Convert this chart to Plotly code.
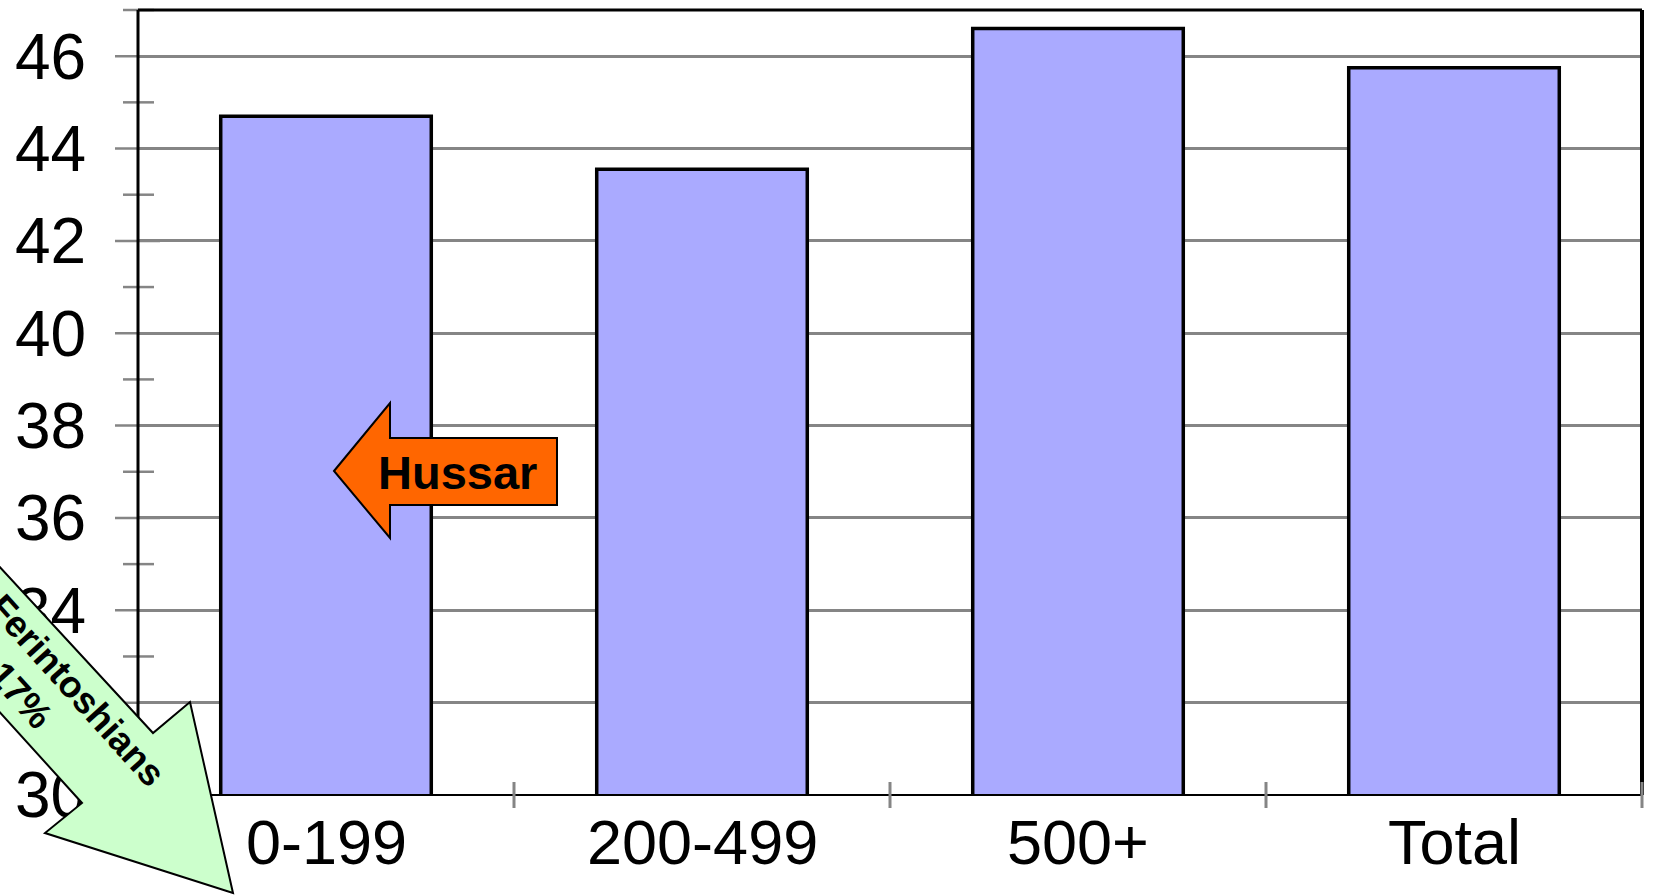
import plotly.graph_objects as go

# ---------------- data ----------------
categories = ["0-199", "200-499", "500+", "Total"]
values = [44.7, 43.55, 46.6, 45.75]
y_tick_values = [30, 32, 34, 36, 38, 40, 42, 44, 46]
y_minor_values = [31, 33, 35, 37, 39, 41, 43, 45, 47]
y_range = [30, 47]

hussar_label = "Hussar"
ferin_label_1 = "Ferintoshians"
ferin_label_2 = "17%"

# ---------------- layout geometry ----------------
W, H = 1653, 895
L, R, T, B = 138, 11, 10, 100
PW = W - L - R
PH = H - T - B
FONT = "Arial, Liberation Sans, sans-serif"


def px(x):
    return (x - L) / PW


def py(y):
    return (H - B - y) / PH


def yv(v):
    return (v - y_range[0]) / (y_range[1] - y_range[0])


def poly(points):
    pts = [f"{px(x):.5f},{py(y):.5f}" for x, y in points]
    return "M" + " L".join(pts) + " Z"


fig = go.Figure()
fig.add_trace(go.Bar(
    x=categories, y=values,
    marker=dict(color="#AAAAFF", line=dict(color="black", width=3.5)),
    hoverinfo="skip",
))

shapes = []
# y tick marks (major outside part, minor crossing)
for v in y_tick_values:
    shapes.append(dict(type="line", xref="paper", yref="paper",
                       x0=px(115), x1=px(160), y0=yv(v), y1=yv(v),
                       line=dict(color="#858585", width=2.5), layer="above"))
for v in y_minor_values:
    shapes.append(dict(type="line", xref="paper", yref="paper",
                       x0=px(123), x1=px(154), y0=yv(v), y1=yv(v),
                       line=dict(color="#858585", width=2.5), layer="above"))
# borders
shapes += [
    dict(type="line", xref="paper", yref="paper", x0=0, x1=0, y0=0, y1=1,
         line=dict(color="black", width=3), layer="above"),
    dict(type="line", xref="paper", yref="paper", x0=0, x1=1, y0=0, y1=0,
         line=dict(color="black", width=2), layer="above"),
    dict(type="line", xref="paper", yref="paper", x0=0, x1=1, y0=1, y1=1,
         line=dict(color="black", width=3), layer="above"),
    dict(type="line", xref="paper", yref="paper", x0=1, x1=1, y0=0, y1=1,
         line=dict(color="black", width=4), layer="above"),
]
# x tick marks at category boundaries
n = len(categories)
for i in range(1, n + 1):
    xp = i / n
    shapes.append(dict(type="line", xref="paper", yref="paper",
                       x0=xp, x1=xp, y0=py(782), y1=py(808),
                       line=dict(color="#858585", width=3), layer="above"))

# Hussar arrow (orange, pointing left)
shapes.append(dict(type="path", xref="paper", yref="paper", layer="above",
                   path=poly([(334, 471), (390, 403), (390, 438), (557, 438),
                              (557, 505), (390, 505), (390, 538)]),
                   fillcolor="#FF6600", line=dict(color="black", width=2)))

# Ferintoshians arrow (green, pointing down-right)
shapes.append(dict(type="path", xref="paper", yref="paper", layer="above",
                   path=poly([(-100, 459), (153, 733), (190, 702), (233, 893),
                              (45, 833), (82, 803), (-100, 602)]),
                   fillcolor="#CCFFCC", line=dict(color="black", width=2)))

annotations = []
# category labels
for c in categories:
    annotations.append(dict(xref="x", yref="paper", x=c, y=py(842), text=c,
                            showarrow=False, xanchor="center", yanchor="middle",
                            font=dict(family=FONT, size=63, color="black")))
annotations += [
    dict(xref="paper", yref="paper", x=px(457), y=py(472), text=f"<b>{hussar_label}</b>",
         showarrow=False, xanchor="center", yanchor="middle",
         font=dict(family=FONT, size=47, color="black")),
    dict(xref="paper", yref="paper", x=px(77), y=py(690), text=f"<b>{ferin_label_1}</b>",
         showarrow=False, xanchor="center", yanchor="middle", textangle=48,
         font=dict(family=FONT, size=37, color="black")),
    dict(xref="paper", yref="paper", x=px(21), y=py(695), text=f"<b>{ferin_label_2}</b>",
         showarrow=False, xanchor="center", yanchor="middle", textangle=48,
         font=dict(family=FONT, size=37, color="black")),
]

fig.update_layout(
    width=W, height=H,
    margin=dict(l=L, r=R, t=T, b=B, pad=0, autoexpand=False),
    paper_bgcolor="white", plot_bgcolor="white",
    bargap=0.44,
    showlegend=False,
    shapes=shapes,
    annotations=annotations,
    font=dict(family=FONT, color="black"),
)
fig.update_xaxes(
    type="category", range=[-0.5, n - 0.5], automargin=False,
    showgrid=False, zeroline=False, showline=False,
    showticklabels=False, ticks="",
)
fig.update_yaxes(
    range=y_range, tickvals=y_tick_values, automargin=False,
    showgrid=True, gridcolor="#858585", gridwidth=2.5,
    zeroline=False, showline=False,
    ticks="outside", ticklen=38, tickcolor="rgba(0,0,0,0)",
    tickfont=dict(family=FONT, size=64, color="black"),
)

fig.write_html(
    "out.html",
    config={"displayModeBar": False},
    post_script="document.body.style.margin='0';document.body.style.overflow='hidden';",
)
